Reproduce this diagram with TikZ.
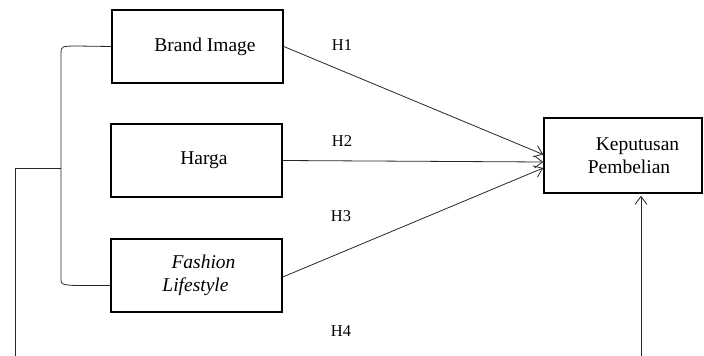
\documentclass[tikz,border=0pt]{standalone}
\usepackage{fontspec}
\setmainfont{Liberation Serif}
\usetikzlibrary{arrows.meta}
\begin{document}
\begin{tikzpicture}[x=1pt,y=-1pt,
  varbox/.style={draw,line width=1.6pt,minimum width=171pt,minimum height=73pt,inner sep=0pt,font=\fontsize{19.5}{23}\selectfont,align=center},
  kbox/.style={draw,line width=1.6pt,minimum width=158pt,minimum height=75pt,inner sep=0pt,font=\fontsize{19.5}{23}\selectfont,align=center},
  conn/.style={line width=0.8pt,draw=black!85},
  arr/.style={conn,-{Straight Barb[length=8pt,width=12pt]}},
  hlab/.style={font=\fontsize{16.5}{18}\selectfont,inner sep=0pt}]
\useasboundingbox (0,0) rectangle (704,356);
\node[varbox] (BI) at (197.5,46.5) {\hspace*{15pt}Brand Image};
\node[varbox] (HA) at (196.5,160.5) {\hspace*{15pt}Harga};
\node[varbox] (FL) at (196.5,275.5) {\hspace*{14pt}\itshape Fashion\\\itshape Lifestyle\hspace*{2pt}};
\node[kbox] (KP) at (623,155.5) {\hspace*{29pt}Keputusan\\\hspace*{12pt}Pembelian};
\node[hlab] (H1) at (342,45) {H1};
\node[hlab] (H2) at (342,141) {H2};
\node[hlab] (H3) at (341,216) {H3};
\node[hlab] (H4) at (341,331) {H4};
\coordinate (BL) at (15,356);
\coordinate (BR) at (641,356);
\coordinate (MJ) at (61,168);
\draw[arr] (BI.east) -- ([yshift=1pt]KP.west);
\draw[arr] (HA.east) -- ([yshift=-6.5pt]KP.west);
\draw[arr] ([yshift=-1.5pt]FL.east) -- ([yshift=-12.5pt]KP.west);
\draw[arr] (BR) -- ([xshift=18pt,yshift=-2pt]KP.south);
\draw[conn] (BI.west) -- (76,46) .. controls (62,46) and (61,47) .. (61,52) -- (61,280) .. controls (61,284) and (62,285) .. (76,285.5) -- ([yshift=-10pt]FL.west);
\draw[conn] (BL) -- (15,168) -- (MJ);
\end{tikzpicture}
\end{document}
